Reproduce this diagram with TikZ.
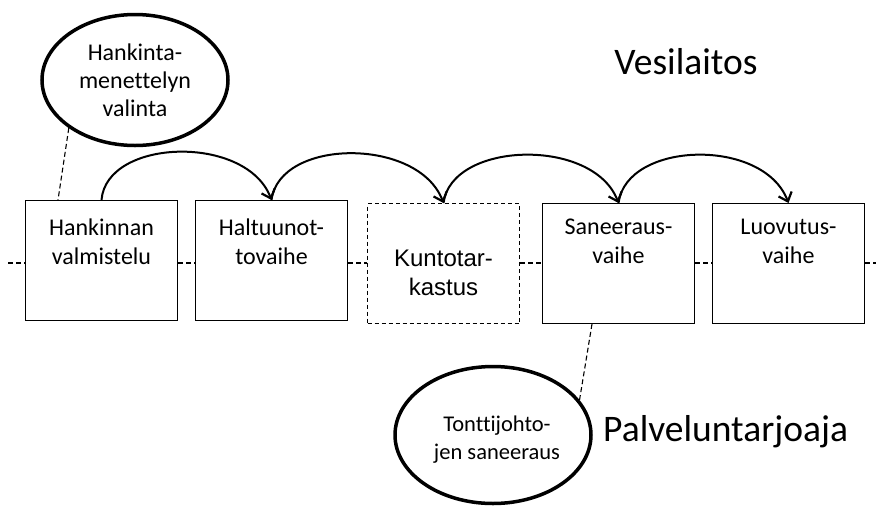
\documentclass[tikz,border=0pt]{standalone}
\usepackage{fontspec}
\setmainfont{Carlito}[Ligatures=NoCommon]
\newfontfamily\arialfont{Liberation Sans}
\usetikzlibrary{shapes.geometric,arrows.meta,calc}
\begin{document}
\begin{tikzpicture}[x=1pt,y=-1pt,
  stage/.style={draw,line width=1pt,minimum width=152pt,minimum height=120pt,inner sep=0pt,anchor=north west},
  boxtext/.style={font=\fontsize{24}{29}\selectfont,align=center,anchor=north,inner sep=0pt},
  bubble/.style={draw,ellipse,line width=3.5pt,inner sep=0pt,align=center},
  tie/.style={line width=1.1pt,dash pattern=on 5pt off 3pt},
  hop/.style={line width=2pt,-{Straight Barb[length=8pt,width=14pt,line width=2.2pt]}},
  title/.style={font=\fontsize{37.5}{40}\selectfont,inner sep=0pt}]
\useasboundingbox (0,0) rectangle (876,507);
% stage boxes
\node[stage] (b1) at (25,200) {};
\node[stage] (b2) at (195,200) {};
\node[stage,dash pattern=on 4pt off 3pt] (b3) at (367,203) {};
\node[stage] (b4) at (542,203) {};
\node[stage] (b5) at (712,203) {};
\node[boxtext] (t1) at ($(b1.north)+(0,19)$) {Hankinnan\\valmistelu};
\node[boxtext] (t2) at ($(b2.north)+(0,19)$) {Haltuunot-\\tovaihe};
\node[boxtext,font=\arialfont\fontsize{24}{29}\selectfont,anchor=center] (t3) at ($(b3.center)+(0,9)$) {Kuntotar-\\kastus};
\node[boxtext] (t4) at ($(b4.north)+(0,16)$) {Saneeraus-\\vaihe};
\node[boxtext] (t5) at ($(b5.north)+(0,16)$) {Luovutus-\\vaihe};
% dashed axis
\coordinate (axL) at (8,263);
\coordinate (axR) at (876,263);
\draw[tie] (axL) -- (axL -| b1.west);
\draw[tie] (b1.east |- axL) -- (b2.west |- axL);
\draw[tie] (b2.east |- axL) -- (b3.west |- axL);
\draw[tie] (b3.east |- axL) -- (b4.west |- axL);
\draw[tie] (b4.east |- axL) -- (b5.west |- axL);
\draw[tie] (b5.east |- axL) -- (axR);
% arcs
\draw[hop] (b1.north) .. controls ($(b1.north)+(5,-62)$) and ($(b2.north)+(-25,-66)$) .. (b2.north);
\draw[hop] (b2.north) .. controls ($(b2.north)+(8,-62)$) and ($(b3.north)+(-25,-66)$) .. (b3.north);
\draw[hop] (b3.north) .. controls ($(b3.north)+(8,-62)$) and ($(b4.north)+(-25,-66)$) .. (b4.north);
\draw[hop] (b4.north) .. controls ($(b4.north)+(8,-62)$) and ($(b5.north)+(-25,-66)$) .. (b5.north);
% bubbles
\node[bubble,minimum width=186pt,minimum height=131pt,font=\fontsize{24}{28}\selectfont] (e1) at (135,80) {Hankinta-\\menettelyn\\valinta};
\node[bubble,minimum width=196pt,minimum height=137pt] (e2) at (493,435) {};
\node[font=\fontsize{22.5}{28}\selectfont,align=center,inner sep=0pt] (t6) at (497,440) {Tonttijohto-\\jen saneeraus};
\coordinate (c1) at ($(b1.north west)+(33,0)$);
\draw[tie] (e1.216) -- (c1);
\coordinate (c2) at ($(b4.south west)+(50,0)$);
\draw[tie] (c2) -- (e2.22);
% titles
\node[title] (v) at (686,62) {Vesilaitos};
\node[title,anchor=west] (p) at (603,432) {Palveluntarjoaja};
\end{tikzpicture}
\end{document}
